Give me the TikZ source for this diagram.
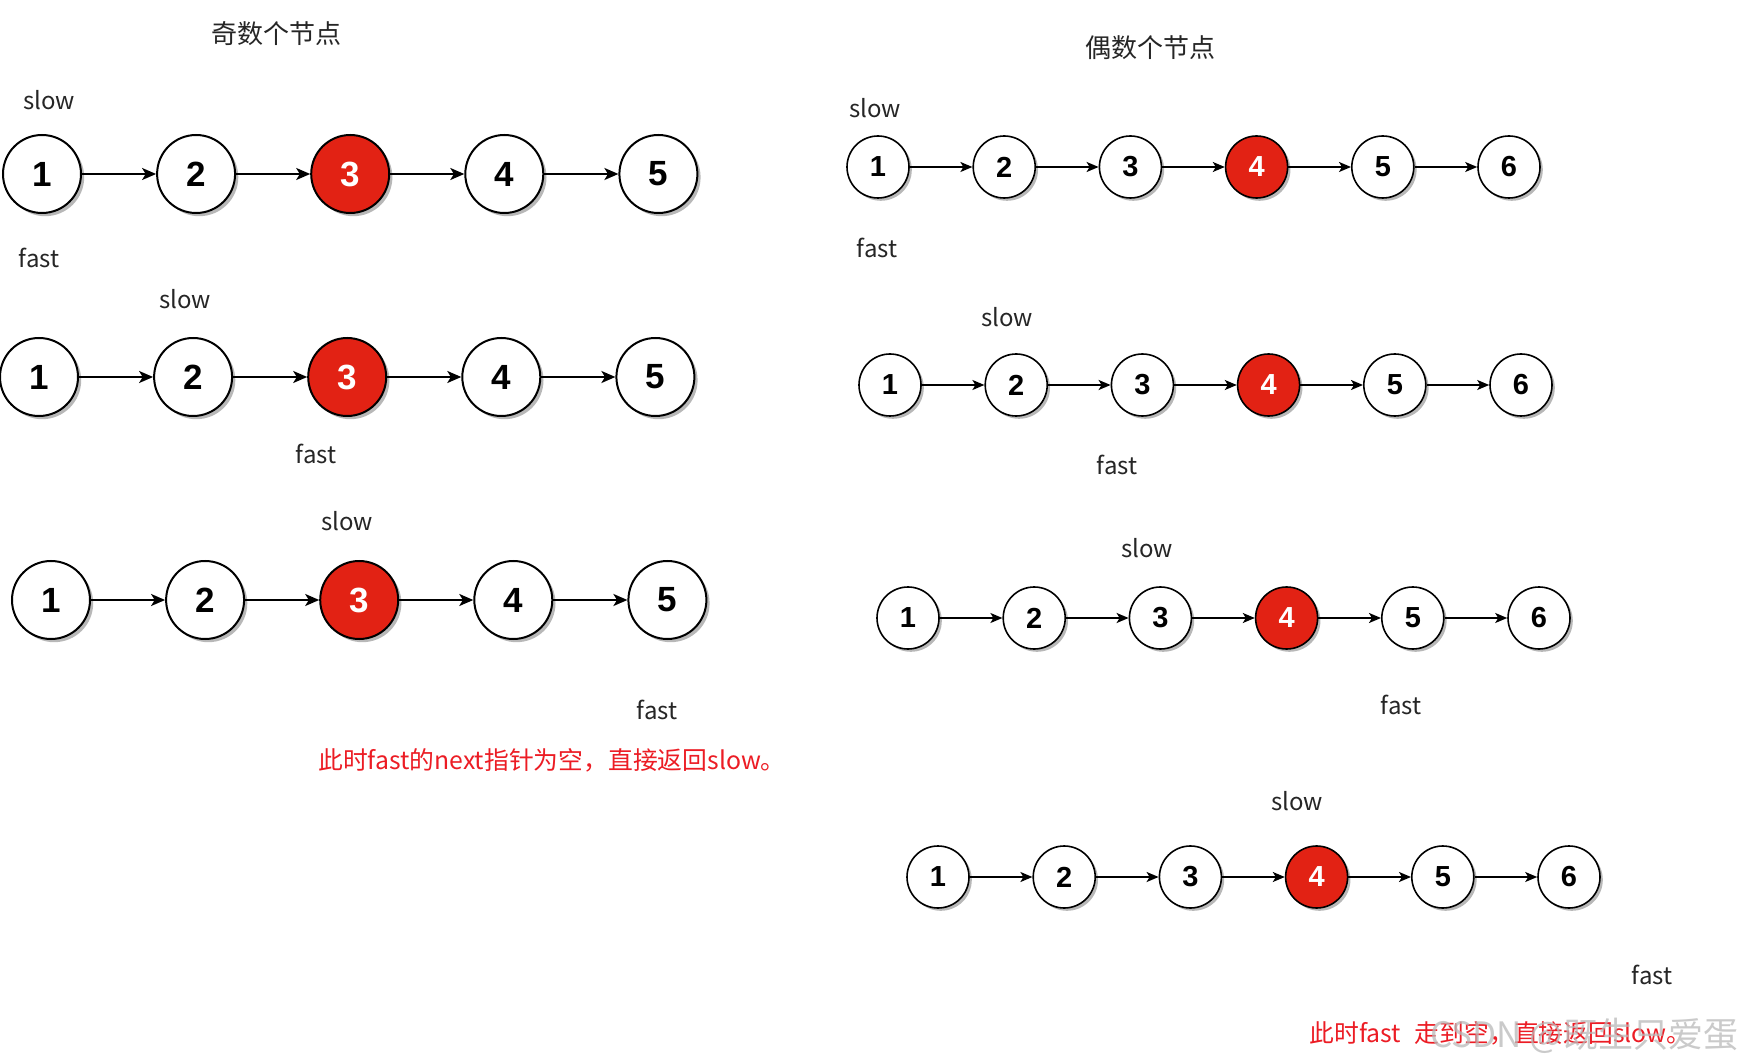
\documentclass[tikz,border=0pt]{standalone}
\usepackage{fontspec}
\newfontfamily\cjk{Noto Sans CJK SC}
\newfontfamily\digitfont{Liberation Sans}
\usetikzlibrary{shadows,arrows.meta}
\definecolor{nodered}{RGB}{226,34,20}
\definecolor{textred}{RGB}{236,28,36}
\tikzset{
  lnode/.style={circle,draw=black,line width=1pt,fill=white,minimum size=39pt,inner sep=0pt,
    font=\digitfont\bfseries\fontsize{17.5}{17.5}\selectfont,
    drop shadow={shadow xshift=1.6pt,shadow yshift=-1.6pt,opacity=0.28,fill=black}},
  rnode/.style={circle,draw=black,line width=0.8pt,fill=white,minimum size=31pt,inner sep=0pt,
    font=\digitfont\bfseries\fontsize{14.5}{14.5}\selectfont,
    drop shadow={shadow xshift=1.4pt,shadow yshift=-1.4pt,opacity=0.28,fill=black}},
  hot/.style={fill=nodered,text=white},
  link/.style={line width=1pt,-{Stealth[length=7pt,width=6pt,inset=1.8pt]}},
  rlink/.style={line width=0.85pt,-{Stealth[length=6pt,width=5pt,inset=1.5pt]}},
  lab/.style={font=\cjk\fontsize{12}{12}\selectfont,text=black!85,inner sep=0pt},
  ttl/.style={font=\cjk\fontsize{13}{13}\selectfont,text=black!85,inner sep=0pt},
  note/.style={font=\cjk\fontsize{12.4}{12.4}\selectfont,text=textred,inner sep=0pt},
  wm/.style={font=\cjk\fontsize{17.5}{17.5}\selectfont,text=gray!55,opacity=0.75,inner sep=0pt}
}
\begin{document}
\begin{tikzpicture}[x=0.5pt,y=-0.5pt]
\useasboundingbox[fill=white] (0,0) rectangle (1739,1063);

% ---------- left: odd number of nodes ----------
\node[ttl] (tL) at (276,34) {奇数个节点};

% row 1
\foreach \i in {1,...,5}{
  \ifnum\i=3
    \node[lnode,hot] (a\i) at ({42+154.1*(\i-1)},174) {\i};
  \else
    \node[lnode] (a\i) at ({42+154.1*(\i-1)},174) {\i};
  \fi
}
\foreach \i/\j in {1/2,2/3,3/4,4/5} \draw[link] (a\i) -- (a\j);
\node[lab] (sa) at (49,100) {slow};
\node[lab] (fa) at (39,258) {fast};

% row 2
\foreach \i in {1,...,5}{
  \ifnum\i=3
    \node[lnode,hot] (b\i) at ({39+154.1*(\i-1)},377) {\i};
  \else
    \node[lnode] (b\i) at ({39+154.1*(\i-1)},377) {\i};
  \fi
}
\foreach \i/\j in {1/2,2/3,3/4,4/5} \draw[link] (b\i) -- (b\j);
\node[lab] (sb) at (185,299) {slow};
\node[lab] (fb) at (316,454) {fast};

% row 3
\foreach \i in {1,...,5}{
  \ifnum\i=3
    \node[lnode,hot] (c\i) at ({51+154.1*(\i-1)},600) {\i};
  \else
    \node[lnode] (c\i) at ({51+154.1*(\i-1)},600) {\i};
  \fi
}
\foreach \i/\j in {1/2,2/3,3/4,4/5} \draw[link] (c\i) -- (c\j);
\node[lab] (sc) at (347,521) {slow};
\node[lab] (fc) at (657,710) {fast};

\node[note] (nL) at (552,760) {此时fast的next指针为空，直接返回slow。};

% ---------- right: even number of nodes ----------
\node[ttl] (tR) at (1150,48) {偶数个节点};

% row 1
\foreach \i in {1,...,6}{
  \ifnum\i=4
    \node[rnode,hot] (d\i) at ({878+126.2*(\i-1)},167) {\i};
  \else
    \node[rnode] (d\i) at ({878+126.2*(\i-1)},167) {\i};
  \fi
}
\foreach \i/\j in {1/2,2/3,3/4,4/5,5/6} \draw[rlink] (d\i) -- (d\j);
\node[lab] (sd) at (875,108) {slow};
\node[lab] (fd) at (877,248) {fast};

% row 2
\foreach \i in {1,...,6}{
  \ifnum\i=4
    \node[rnode,hot] (e\i) at ({890+126.2*(\i-1)},385) {\i};
  \else
    \node[rnode] (e\i) at ({890+126.2*(\i-1)},385) {\i};
  \fi
}
\foreach \i/\j in {1/2,2/3,3/4,4/5,5/6} \draw[rlink] (e\i) -- (e\j);
\node[lab] (se) at (1007,317) {slow};
\node[lab] (fe) at (1117,465) {fast};

% row 3
\foreach \i in {1,...,6}{
  \ifnum\i=4
    \node[rnode,hot] (f\i) at ({908+126.2*(\i-1)},618) {\i};
  \else
    \node[rnode] (f\i) at ({908+126.2*(\i-1)},618) {\i};
  \fi
}
\foreach \i/\j in {1/2,2/3,3/4,4/5,5/6} \draw[rlink] (f\i) -- (f\j);
\node[lab] (sf) at (1147,548) {slow};
\node[lab] (ff) at (1401,705) {fast};

% row 4
\foreach \i in {1,...,6}{
  \ifnum\i=4
    \node[rnode,hot] (g\i) at ({938+126.2*(\i-1)},877) {\i};
  \else
    \node[rnode] (g\i) at ({938+126.2*(\i-1)},877) {\i};
  \fi
}
\foreach \i/\j in {1/2,2/3,3/4,4/5,5/6} \draw[rlink] (g\i) -- (g\j);
\node[lab] (sg) at (1297,801) {slow};
\node[lab] (fg) at (1652,975) {fast};

\node[note,anchor=west] (nR) at (1309,1033) {此时fast\hspace{7pt}走到空，直接返回slow。};
\node[wm,anchor=west] (wmk) at (1430,1036) {CSDN @既生只爱蛋};
\end{tikzpicture}
\end{document}
